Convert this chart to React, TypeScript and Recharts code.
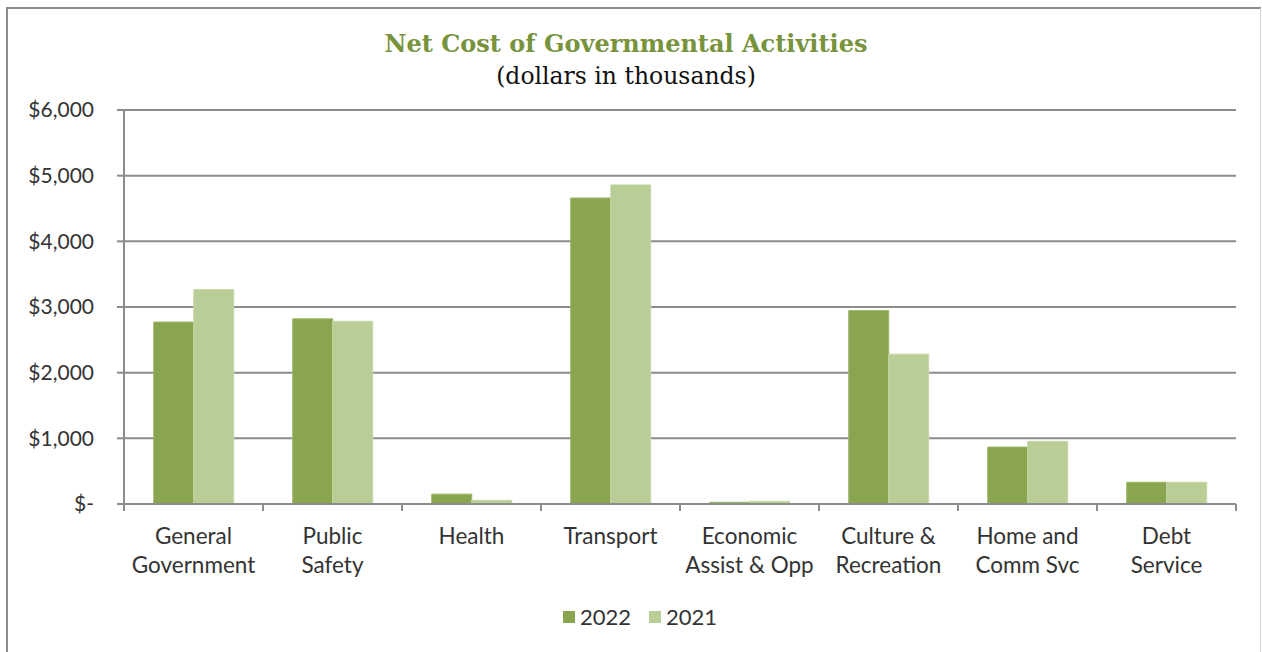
import React from 'react';
import { BarChart, Bar, XAxis, YAxis, CartesianGrid, Legend } from 'recharts';

const categories = [
  'General Government',
  'Public Safety',
  'Health',
  'Transport',
  'Economic Assist & Opp',
  'Culture & Recreation',
  'Home and Comm Svc',
  'Debt Service',
];

// two-line tick labels, as they wrap in the original
const tickLines = [
  ['General', 'Government'],
  ['Public', 'Safety'],
  ['Health'],
  ['Transport'],
  ['Economic', 'Assist & Opp'],
  ['Culture &', 'Recreation'],
  ['Home and', 'Comm Svc'],
  ['Debt', 'Service'],
];

const values2022 = [2770, 2820, 150, 4660, 26, 2945, 867, 331];
const values2021 = [3265, 2782, 57, 4859, 41, 2282, 954, 331];

const yTicks = [0, 1000, 2000, 3000, 4000, 5000, 6000];

const seriesNames = ['2022', '2021'];

const COLOR_2022 = '#8aa54f';
const COLOR_2021 = '#b9cd96';
const GRID = '#8c8c8c';
const FONT = 'Lato, "Open Sans", sans-serif';

const data = categories.map((name, i) => ({
  name,
  y2022: values2022[i],
  y2021: values2021[i],
}));

const formatDollar = (v: number) => (v === 0 ? '$-' : '$' + v.toLocaleString('en-US'));

const XTick = (props: any) => {
  const { x, y, payload, index } = props;
  const lines = tickLines[index] ?? [String(payload.value)];
  const half = payload.offset ?? 0;
  const axisY = y - 7;
  return (
    <g>
      <line x1={x - half} x2={x - half} y1={axisY} y2={axisY + 7} stroke={GRID} strokeWidth={2} />
      {index === categories.length - 1 && (
        <line x1={x + half} x2={x + half} y1={axisY} y2={axisY + 7} stroke={GRID} strokeWidth={2} />
      )}
      <text x={x} y={axisY + 40} textAnchor="middle" fill="#333" fontSize={22.5} fontFamily={FONT}>
        {lines.map((l, i) => (
          <tspan key={i} x={x} dy={i === 0 ? 0 : 29}>
            {l}
          </tspan>
        ))}
      </text>
    </g>
  );
};

const LegendContent = () => (
  <div
    style={{
      display: 'flex',
      justifyContent: 'center',
      alignItems: 'center',
      gap: 18,
      fontFamily: FONT,
      fontSize: 22,
      color: '#333',
    }}
  >
    {seriesNames.map((s, i) => (
      <div key={s} style={{ display: 'flex', alignItems: 'center', gap: 5 }}>
        <span
          style={{
            width: 12,
            height: 12,
            background: i === 0 ? COLOR_2022 : COLOR_2021,
            display: 'inline-block',
          }}
        />
        <span>{s}</span>
      </div>
    ))}
  </div>
);

export default function App() {
  return (
    <div style={{ position: 'absolute', left: 0, top: 0, width: 1262, height: 652, background: '#fff', overflow: 'hidden' }}>
      {/* frame */}
      <div
        style={{
          position: 'absolute',
          left: 6,
          top: 7,
          width: 1255,
          height: 700,
          boxSizing: 'border-box',
          borderLeft: '2px solid #8c8c8c',
          borderTop: '2px solid #8c8c8c',
          borderRight: '1px solid #d4d4d4',
        }}
      />
      <div
        style={{
          position: 'absolute',
          top: 27,
          left: 0,
          width: 1252,
          textAlign: 'center',
          fontFamily: '"DejaVu Serif", serif',
        }}
      >
        <div style={{ color: '#77933c', fontWeight: 'bold', fontSize: 24, lineHeight: '34px' }}>
          Net Cost of Governmental Activities
        </div>
        <div style={{ color: '#111', fontSize: 23.5, lineHeight: '30px' }}>(dollars in thousands)</div>
      </div>
      <div style={{ position: 'absolute', left: 0, top: 0 }}>
        <BarChart
          width={1262}
          height={652}
          data={data}
          margin={{ top: 110, right: 26, left: 24, bottom: 68 }}
          barCategoryGap="21.4%"
          barGap={0}
        >
          <CartesianGrid vertical={false} stroke={GRID} strokeWidth={2} />
          <XAxis
            dataKey="name"
            interval={0}
            height={80}
            tickLine={false}
            tickSize={7}
            tickMargin={0}
            axisLine={{ stroke: GRID, strokeWidth: 2 }}
            tick={<XTick />}
          />
          <YAxis
            width={100}
            domain={[0, 6000]}
            ticks={yTicks}
            interval={0}
            tickFormatter={formatDollar}
            tickSize={7}
            tickMargin={23}
            tickLine={{ stroke: GRID, strokeWidth: 2 }}
            axisLine={{ stroke: GRID, strokeWidth: 2 }}
            tick={{ fill: '#333', fontSize: 21, fontFamily: FONT }}
          />
          <Legend
            layout="vertical"
            align="center"
            verticalAlign="middle"
            content={<LegendContent />}
            wrapperStyle={{ top: 603, left: 0, width: 1280, height: 30 }}
          />
          <Bar dataKey="y2022" name="2022" fill={COLOR_2022} stroke="#9ab565" strokeWidth={1} isAnimationActive={false} />
          <Bar dataKey="y2021" name="2021" fill={COLOR_2021} stroke="#c6d8a8" strokeWidth={1} isAnimationActive={false} />
        </BarChart>
      </div>
    </div>
  );
}
